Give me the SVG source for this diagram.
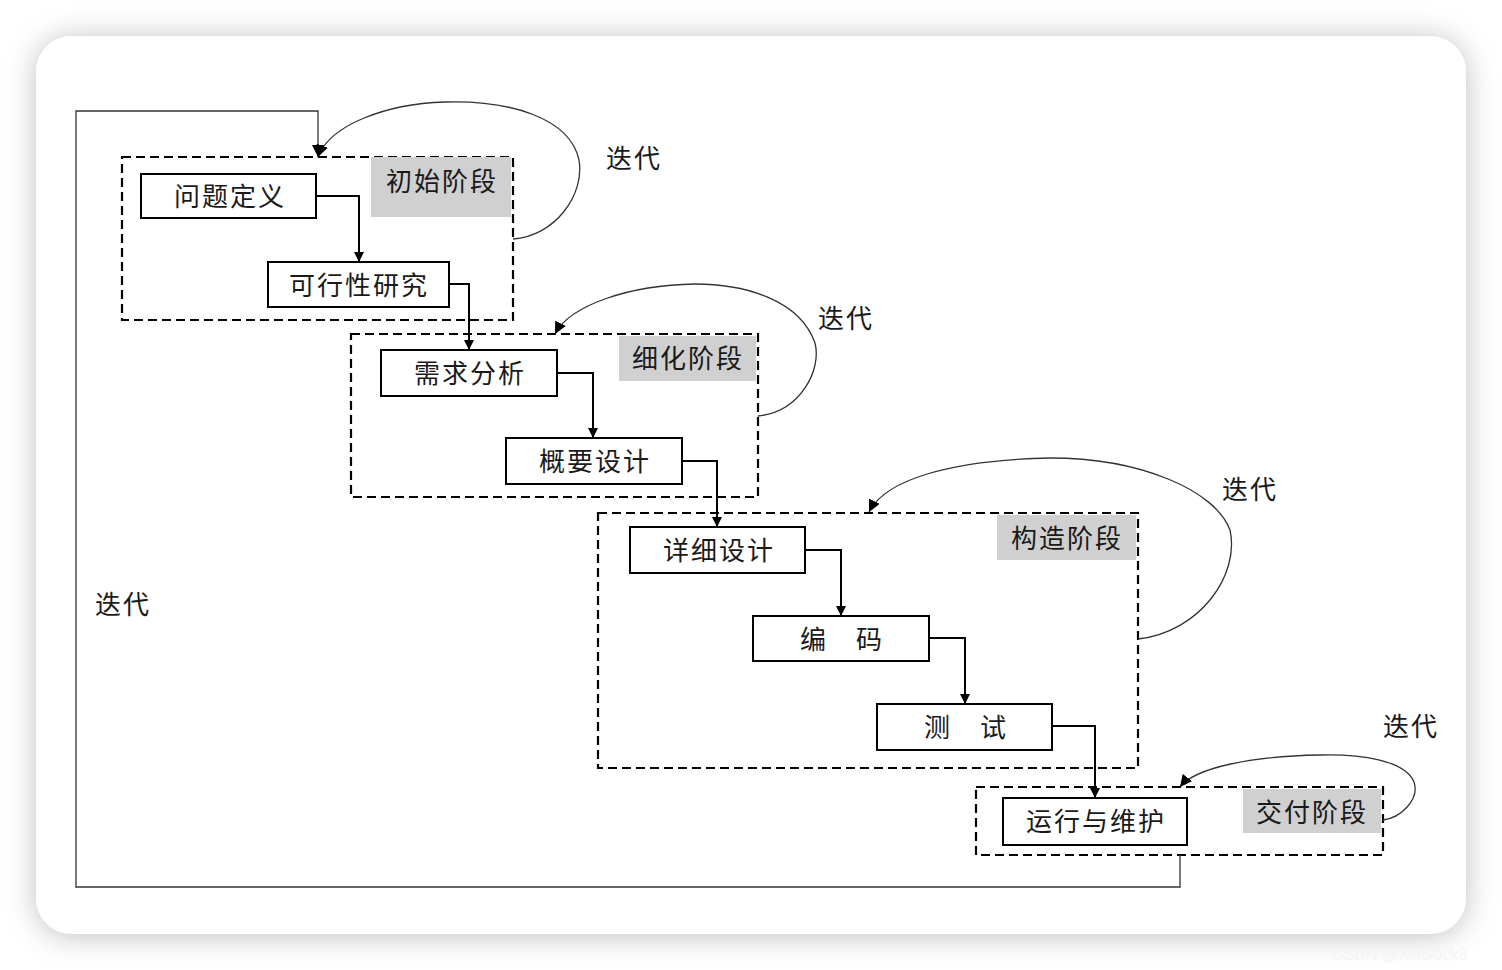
<svg xmlns="http://www.w3.org/2000/svg" width="1502" height="970" viewBox="0 0 1502 970">
<style>
.t{font-family:"Noto Sans CJK SC","Liberation Sans",sans-serif;font-size:26px;fill:#1a1a1a;text-anchor:middle;dominant-baseline:central;letter-spacing:2px}
.box{fill:#fff;stroke:#000;stroke-width:2}
.stage{fill:none;stroke:#000;stroke-width:2.2;stroke-dasharray:9,5}
.lab{fill:#d0d0d0}
.con{fill:none;stroke:#000;stroke-width:2}
.it{fill:none;stroke:#333;stroke-width:1.3}
</style>
<defs>
<filter id="sh" x="-10%" y="-10%" width="120%" height="120%">
<feDropShadow dx="0" dy="2" stdDeviation="15" flood-color="#000" flood-opacity="0.25"/>
</filter>
<marker id="ar" viewBox="0 0 10 10" refX="10" refY="5" markerWidth="10" markerHeight="10" markerUnits="userSpaceOnUse" orient="auto">
<path d="M0,0 L10,5 L0,10 z" fill="#000"/>
</marker>
<marker id="ar2" viewBox="0 0 10 10" refX="10" refY="5" markerWidth="12" markerHeight="12" markerUnits="userSpaceOnUse" orient="auto">
<path d="M0,0 L10,5 L0,10 z" fill="#000"/>
</marker>
</defs>
<rect width="1502" height="970" fill="#fff"/>
<rect x="36" y="36" width="1430" height="898" rx="36" fill="#fff" filter="url(#sh)"/>

<g id="stages">
<g id="stage1"><rect class="stage" x="122" y="157" width="391" height="163"/><rect class="lab" x="371" y="157" width="140" height="60"/><text class="t" x="442" y="179">初始阶段</text></g>
<g id="stage2"><rect class="stage" x="351" y="334" width="407" height="163"/><rect class="lab" x="619" y="336" width="137" height="45"/><text class="t" x="688" y="356">细化阶段</text></g>
<g id="stage3"><rect class="stage" x="598" y="513" width="540" height="255"/><rect class="lab" x="997" y="515" width="139" height="45"/><text class="t" x="1067" y="536">构造阶段</text></g>
<g id="stage4"><rect class="stage" x="976" y="787" width="407" height="68"/><rect class="lab" x="1243" y="789" width="138" height="44"/><text class="t" x="1312" y="810">交付阶段</text></g>
</g>

<g id="connectors">
<path class="it" d="M1180,855 V887 H76 V111 H318 V157" marker-end="url(#ar2)"/>
<path class="con" d="M316,196 H359 V262" marker-end="url(#ar)"/>
<path class="con" d="M449,284 H469 V350" marker-end="url(#ar)"/>
<path class="con" d="M557,373 H593 V438" marker-end="url(#ar)"/>
<path class="con" d="M682,461 H717 V527" marker-end="url(#ar)"/>
<path class="con" d="M805,550 H841 V616" marker-end="url(#ar)"/>
<path class="con" d="M929,638 H965 V704" marker-end="url(#ar)"/>
<path class="con" d="M1052,726 H1095 V798" marker-end="url(#ar)"/>
<path class="it" d="M513,239 C555,236 585,195 579,160 C570,118 510,100 445,102 C385,104 330,125 318,157" marker-end="url(#ar2)"/>
<path class="it" d="M758,416 C800,412 822,370 815,343 C800,300 745,284 695,284 C630,285 570,305 555,334" marker-end="url(#ar2)"/>
<path class="it" d="M1138,639 C1200,632 1240,575 1230,530 C1215,490 1140,458 1050,458 C950,460 885,480 869,512" marker-end="url(#ar2)"/>
<path class="it" d="M1383,820 C1400,818 1420,800 1414,782 C1405,760 1360,754 1320,755 C1250,756 1195,768 1180,787" marker-end="url(#ar2)"/>
</g>

<g id="nodes">
<g id="n1"><rect class="box" x="141" y="174" width="175" height="44"/><text class="t" x="230" y="194">问题定义</text></g>
<g id="n2"><rect class="box" x="268" y="262" width="181" height="45"/><text class="t" x="359" y="283">可行性研究</text></g>
<g id="n3"><rect class="box" x="381" y="350" width="176" height="46"/><text class="t" x="470" y="371">需求分析</text></g>
<g id="n4"><rect class="box" x="506" y="438" width="176" height="46"/><text class="t" x="595" y="459">概要设计</text></g>
<g id="n5"><rect class="box" x="630" y="527" width="175" height="46"/><text class="t" x="719" y="548">详细设计</text></g>
<g id="n6"><rect class="box" x="753" y="616" width="176" height="45"/><text class="t" x="842" y="637">编　码</text></g>
<g id="n7"><rect class="box" x="877" y="704" width="175" height="46"/><text class="t" x="966" y="725">测　试</text></g>
<g id="n8"><rect class="box" x="1003" y="798" width="184" height="47"/><text class="t" x="1096" y="819">运行与维护</text></g>
</g>

<g id="labels">
<text class="t" x="634" y="156">迭代</text>
<text class="t" x="846" y="316">迭代</text>
<text class="t" x="1250" y="487">迭代</text>
<text class="t" x="1411" y="724">迭代</text>
<text class="t" x="123" y="602">迭代</text>
</g>
<text x="1332" y="960" font-family="Liberation Sans, sans-serif" font-size="16" fill="#f4f4f4">CSDN @Xiaolock8</text>
</svg>
